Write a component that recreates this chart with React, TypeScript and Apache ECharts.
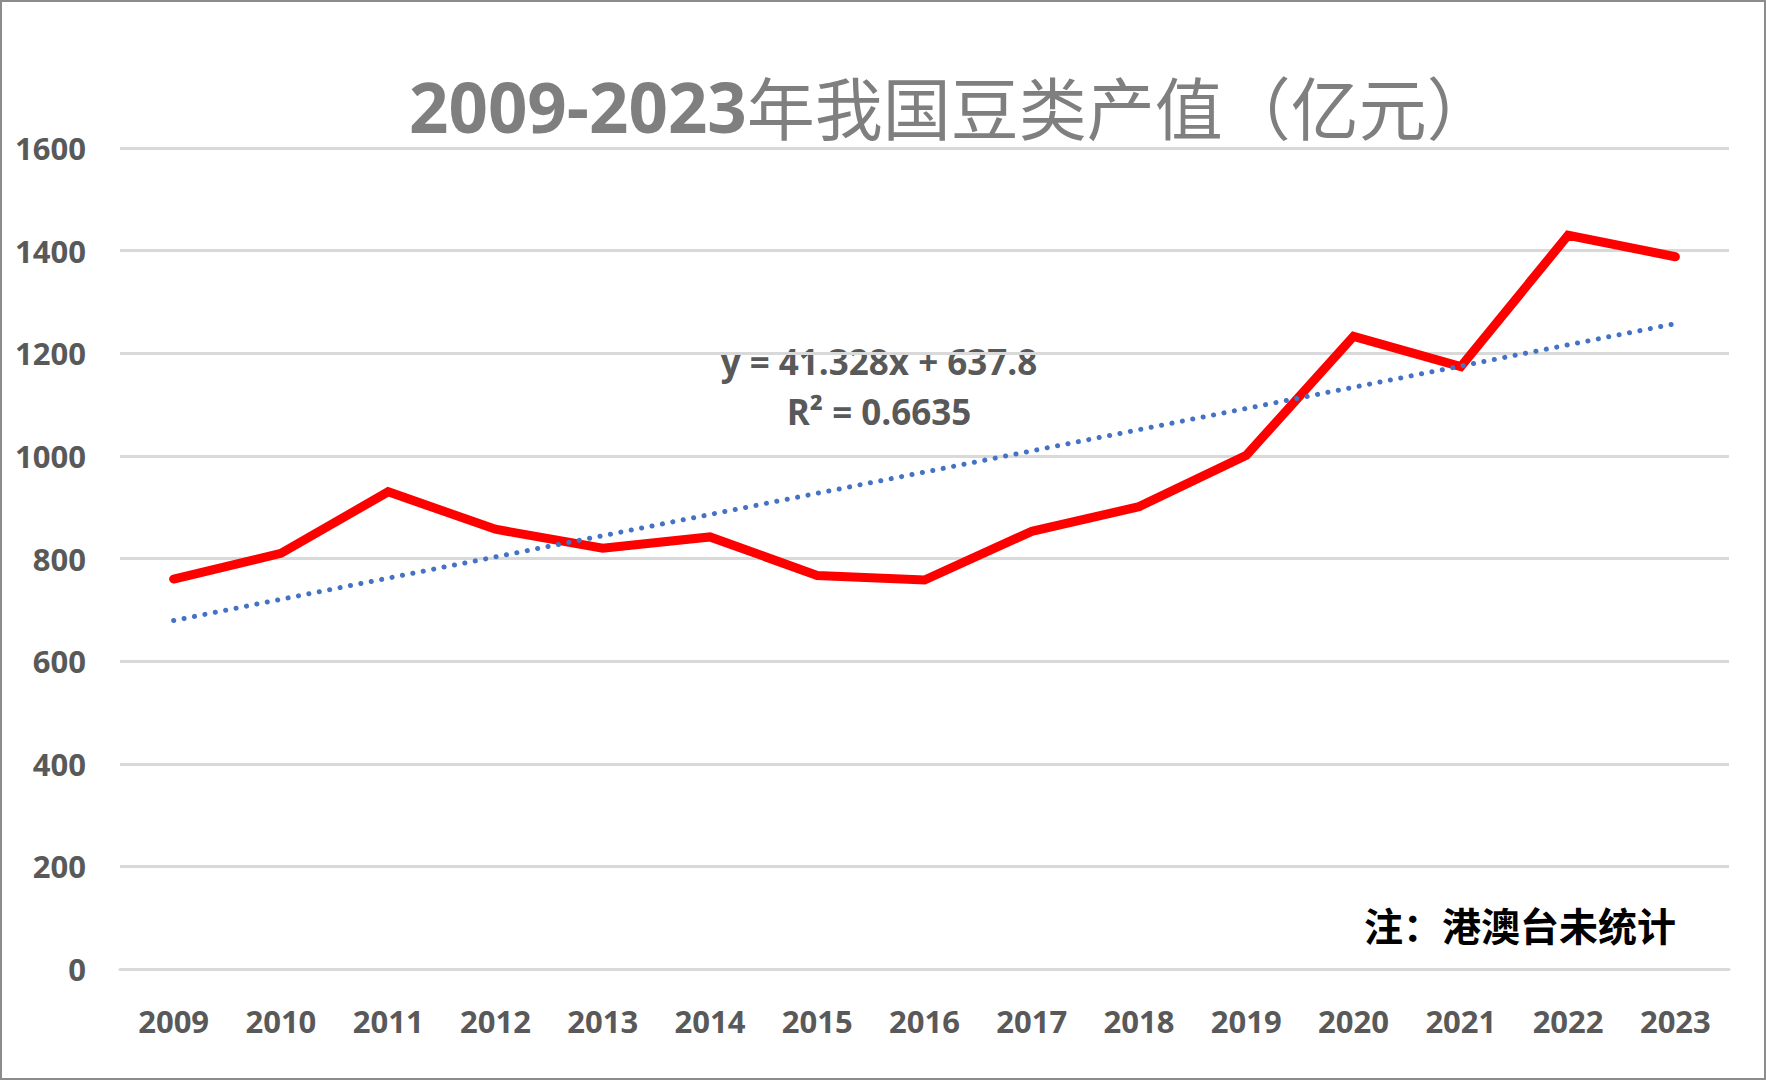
import { useEffect, useRef } from 'react';
import * as echarts from 'echarts';

// data (亿元)
const years = ['2009', '2010', '2011', '2012', '2013', '2014', '2015', '2016', '2017', '2018', '2019', '2020', '2021', '2022', '2023'];
const outputValues = [760, 810, 930, 857, 820, 842, 767, 758, 853, 901, 1001, 1233, 1174, 1430, 1388];

// linear trendline as printed on the chart: y = 41.328x + 637.8 (x = 1..15)
const trendSlope = 41.328;
const trendIntercept = 637.8;
const trendLabel = 'y = 41.328x + 637.8\nR² = 0.6635';

const yTicks = [0, 200, 400, 600, 800, 1000, 1200, 1400, 1600];

const titleYears = '2009-2023';
const titleRest = '年我国豆类产值（亿元）';
const noteText = '注：港澳台未统计';

export default function App() {
  const chartRef = useRef<HTMLDivElement>(null);

  useEffect(() => {
    if (!chartRef.current) return;
    const chart = echarts.init(chartRef.current, null, { renderer: 'svg' });

    const trendStart = trendIntercept + trendSlope * 1;
    const trendEnd = trendIntercept + trendSlope * years.length;

    const labelFont = {
      color: '#595959',
      fontFamily: '"Open Sans", sans-serif',
      fontWeight: 'bold',
      fontSize: 31,
    };

    const option = {
      animation: false,
      backgroundColor: '#ffffff',
      title: {
        text: `{a|${titleYears}}{b|${titleRest}}`,
        left: 402,
        top: 64,
        textStyle: {
          rich: {
            a: {
              fontFamily: '"Open Sans", sans-serif',
              fontWeight: 'bold',
              fontSize: 69,
              color: '#7f7f7f',
            },
            b: {
              fontFamily: '"Noto Sans CJK SC", sans-serif',
              fontWeight: 'normal',
              fontSize: 68,
              color: '#7f7f7f',
            },
          },
        },
      },
      grid: { left: 118, right: 35, top: 146, bottom: 109 },
      xAxis: {
        type: 'category',
        data: years,
        boundaryGap: true,
        axisLine: { show: true, lineStyle: { color: '#d9d9d9', width: 3 } },
        axisTick: { show: false },
        axisLabel: { margin: 36, ...labelFont },
      },
      yAxis: {
        type: 'value',
        min: yTicks[0],
        max: yTicks[yTicks.length - 1],
        interval: 200,
        axisLine: { show: false },
        axisTick: { show: false },
        splitLine: { lineStyle: { color: '#d9d9d9', width: 3 } },
        axisLabel: {
          margin: 34,
          formatter: (v: number) => String(v),
          ...labelFont,
        },
      },
      series: [
        {
          name: '豆类产值',
          type: 'line',
          data: outputValues,
          symbol: 'none',
          z: 3,
          lineStyle: { color: '#ff0000', width: 9, cap: 'round', join: 'miter' },
        },
        {
          name: '线性趋势',
          type: 'line',
          data: [],
          z: 2,
          markLine: {
            silent: true,
            symbol: ['none', 'none'],
            label: { show: false },
            lineStyle: {
              color: '#4472c4',
              width: 5,
              type: [0.1, 10.5],
              cap: 'round',
            },
            data: [
              [
                { coord: [years[0], trendStart] },
                { coord: [years[years.length - 1], trendEnd] },
              ],
            ],
          },
        },
      ],
      graphic: [
        {
          type: 'text',
          x: 877,
          y: 334,
          style: {
            text: trendLabel,
            align: 'center',
            verticalAlign: 'top',
            fill: '#595959',
            font: 'bold 35px "Open Sans", sans-serif',
            lineHeight: 50,
          },
        },
        {
          type: 'text',
          left: 1362,
          top: 902,
          style: {
            text: noteText,
            fill: '#000000',
            font: 'bold 39px "Noto Sans CJK SC", sans-serif',
          },
        },
      ],
    };

    chart.setOption(option);
    return () => {
      chart.dispose();
    };
  }, []);

  return (
    <div
      ref={chartRef}
      style={{
        position: 'fixed',
        left: 0,
        top: 0,
        width: 1766,
        height: 1080,
        boxSizing: 'border-box',
        border: '2px solid #8c8c8c',
        background: '#fff',
      }}
    />
  );
}
